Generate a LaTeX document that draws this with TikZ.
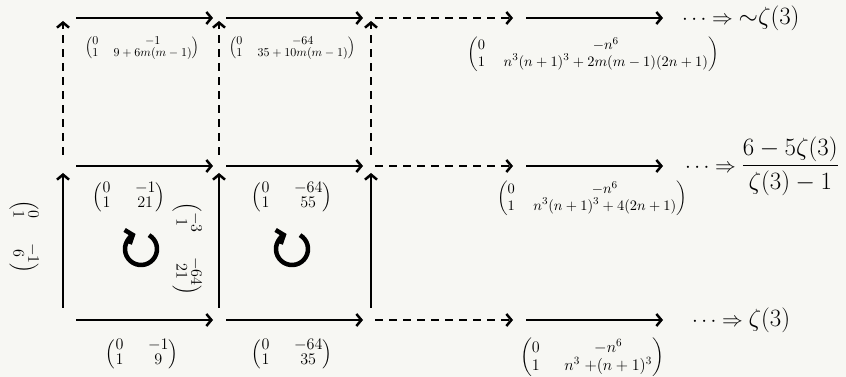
\documentclass[tikz,border=0pt]{standalone}
\usepackage{amsmath}
\usepackage{amssymb}
\usepackage{tikz}
\usetikzlibrary{arrows.meta}
\definecolor{PaperBg}{RGB}{247,247,243}

\begin{document}
\begin{tikzpicture}[x=1pt, y=1pt,
        arr/.style={line width=2.5pt, -{Straight Barb[length=5pt, width=12pt]}},
        darr/.style={arr, dash pattern=on 8pt off 6pt},
        turn/.style={line width=4.5pt, -{Straight Barb[length=6pt, width=15pt]}},
        bigmat/.style={font=\fontsize{14.4}{16}\selectfont, inner sep=0pt, scale=1.12,
            execute at begin node={\setlength{\arraycolsep}{11pt}\renewcommand{\arraystretch}{0.8}}},
        smallmat/.style={font=\fontsize{10.95}{13}\selectfont, inner sep=0pt, scale=1.1,
            execute at begin node={\setlength{\arraycolsep}{7pt}\renewcommand{\arraystretch}{0.8}}},
        limit/.style={font=\fontsize{20.74}{26}\selectfont, anchor=west, inner sep=0pt}]
    \fill[PaperBg] (0,0) rectangle (846,377);
    \useasboundingbox (0,0) rectangle (846,377);

    % Gitterpunkte
    \coordinate (a1) at (63,57);  \coordinate (a2) at (219,57);  \coordinate (a3) at (371,57);
    \coordinate (a4) at (519,57); \coordinate (a5) at (670,57);
    \coordinate (b1) at (63,211); \coordinate (b2) at (219,211); \coordinate (b3) at (371,211);
    \coordinate (b4) at (519,211); \coordinate (b5) at (670,211);
    \coordinate (c1) at (63,359); \coordinate (c2) at (219,359); \coordinate (c3) at (371,359);
    \coordinate (c4) at (519,359); \coordinate (c5) at (670,359);

    % Waagrechte Pfeile
    \draw[arr, shorten <=13pt, shorten >=6pt] (a1) -- (a2);
    \draw[arr, shorten <=7pt, shorten >=8pt] (a2) -- (a3);
    \draw[darr, shorten <=4pt, shorten >=6pt] (a3) -- (a4);
    \draw[arr, shorten <=7pt, shorten >=7pt] (a4) -- (a5);
    \draw[arr, shorten <=13pt, shorten >=6pt] (b1) -- (b2);
    \draw[arr, shorten <=7pt, shorten >=8pt] (b2) -- (b3);
    \draw[darr, shorten <=4pt, shorten >=6pt] (b3) -- (b4);
    \draw[arr, shorten <=7pt, shorten >=7pt] (b4) -- (b5);
    \draw[arr, shorten <=13pt, shorten >=6pt] (c1) -- (c2);
    \draw[arr, shorten <=7pt, shorten >=8pt] (c2) -- (c3);
    \draw[darr, shorten <=4pt, shorten >=6pt] (c3) -- (c4);
    \draw[arr, shorten <=7pt, shorten >=7pt] (c4) -- (c5);

    % Senkrechte Pfeile
    \draw[arr, shorten <=12pt, shorten >=7pt] (a1) -- (b1);
    \draw[arr, shorten <=12pt, shorten >=7pt] (a2) -- (b2);
    \draw[arr, shorten <=12pt, shorten >=7pt] (a3) -- (b3);
    \draw[darr, shorten <=11pt, shorten >=3pt] (b1) -- (c1);
    \draw[darr, shorten <=11pt, shorten >=3pt] (b2) -- (c2);
    \draw[darr, shorten <=11pt, shorten >=3pt] (b3) -- (c3);

    % Matrizen oben
    \node[smallmat] (m1) at (142,329) {$\begin{pmatrix}0 & -1\\ 1 & 9+6m(m-1)\end{pmatrix}$};
    \node[smallmat] (m2) at (292,329) {$\begin{pmatrix}0 & -64\\ 1 & 35+10m(m-1)\end{pmatrix}$};
    \node[smallmat, scale=1.2] (m3) at (593,323) {$\begin{pmatrix}0 & -n^6\\ 1 & n^3(n+1)^3+2m(m-1)(2n+1)\end{pmatrix}$};

    % Matrizen Mitte
    \node[bigmat] (k1) at (129,180) {$\begin{pmatrix}0 & -1\\ 1 & 21\end{pmatrix}$};
    \node[bigmat] (k2) at (292,180) {$\begin{pmatrix}0 & -64\\ 1 & 55\end{pmatrix}$};
    \node[smallmat, scale=1.2] (k3) at (592,179) {$\begin{pmatrix}0 & -n^6\\ 1 & n^3(n+1)^3+4(2n+1)\end{pmatrix}$};

    % Matrizen unten
    \node[bigmat] (u1) at (142,23) {$\begin{pmatrix}0 & -1\\ 1 & 9\end{pmatrix}$};
    \node[bigmat] (u2) at (292,23) {$\begin{pmatrix}0 & -64\\ 1 & 35\end{pmatrix}$};
    \node[bigmat] (u3) at (592,20) {$\begin{pmatrix}0 & -n^6\\ 1 & n^3\;{+}(n+1)^3\end{pmatrix}$};

    % gedrehte Matrizen
    \node[bigmat, rotate=-90] (r1) at (24,140) {$\begin{pmatrix}0 & -1\\ 1 & 6\end{pmatrix}$};
    \node[bigmat, rotate=-90] (r2) at (187,128) {$\begin{pmatrix}-3 & -64\\ 1 & 21\end{pmatrix}$};

    % Kreispfeile
    \draw[turn] (141,128) ++(60:16) arc[start angle=60, end angle=-250, radius=16];
    \draw[turn] (292,128) ++(60:16) arc[start angle=60, end angle=-250, radius=16];

    % Grenzwerte
    \node[limit] (z1) at (682,359) {$\cdots\Rightarrow\text{\fontsize{24.88}{30}\selectfont${\sim}\zeta(3)$}$};
    \node[limit] (z2) at (685,211) {$\cdots\Rightarrow\text{\fontsize{24.88}{30}\selectfont$\dfrac{6-5\zeta(3)}{\zeta(3)-1}$}$};
    \node[limit] (z3) at (692,57) {$\cdots\Rightarrow\text{\fontsize{24.88}{30}\selectfont$\zeta(3)$}$};
\end{tikzpicture}
\end{document}
